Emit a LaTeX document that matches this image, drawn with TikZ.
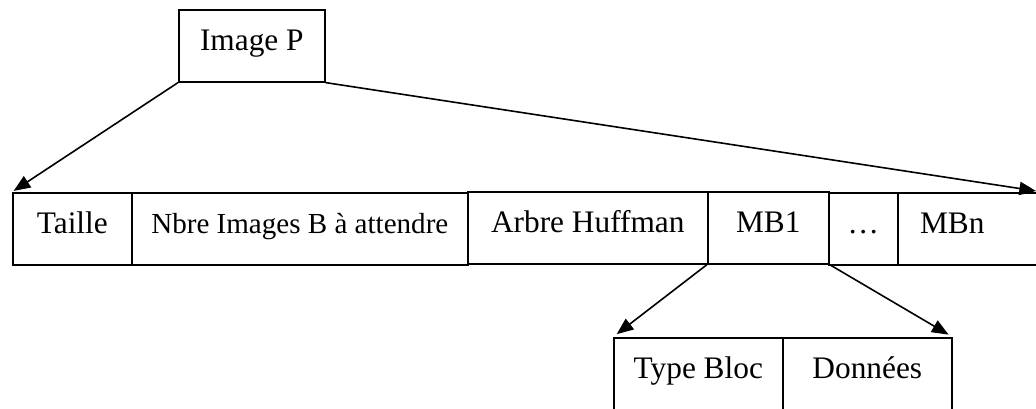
\documentclass[tikz,border=0pt]{standalone}
\usepackage{fontspec}
\setmainfont{Liberation Serif}
\usetikzlibrary{arrows.meta}
\begin{document}
\begin{tikzpicture}[x=0.75pt,y=-0.75pt,
  field/.style={draw=black,line width=1.2pt,inner sep=0pt,anchor=north west,
    text height=30.75pt,text depth=23.25pt,font=\fontsize{23.5}{25}\selectfont},
  link/.style={line width=1.2pt,-{Triangle[length=12.5pt,width=10pt]}}]
\useasboundingbox (0,0) rectangle (1036,408);
\clip (0,0) rectangle (1036,408);
% top-level frame
\node[field,minimum width=109.5pt] (img) at (178,9) {Image P};
% header fields of the frame
\node[field,minimum width=89.25pt] (taille) at (12,192) {Taille};
\node[field,minimum width=252pt,font=\fontsize{21.8}{24}\selectfont] (nbre) at (131,192) {Nbre Images B à attendre};
\node[field,minimum width=180pt] (arbre) at (467,191) {Arbre Huffman};
\node[field,minimum width=90.75pt] (mb1) at (707,191) {MB1};
\node[field,minimum width=51.75pt] (dots) at (828,192) {\dots};
\node[field,minimum width=114.75pt] (mbn) at (897,192) {MBn\kern33pt};
\coordinate (rowend) at (1036,191);
% macroblock content
\node[field,minimum width=126.75pt] (type) at (613,337) {Type Bloc};
\node[field,minimum width=126.75pt] (data) at (782,337) {Données};
% expansion arrows
\draw[link,shorten >=1.5pt] (img.south west) -- (taille.north west);
\draw[link] (img.south east) -- (rowend);
\draw[link,shorten >=3.5pt] (mb1.south west) -- (type.north west);
\draw[link,shorten >=3.5pt] (mb1.south east) -- (data.north east);
\end{tikzpicture}
\end{document}
